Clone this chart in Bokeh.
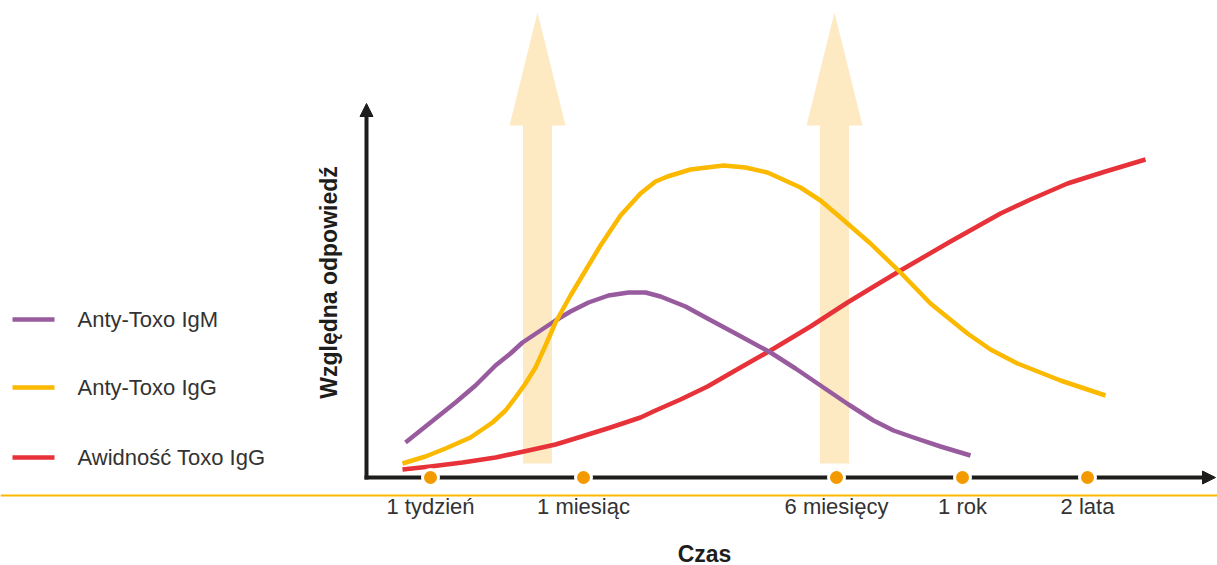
from bokeh.plotting import figure
from bokeh.models import Range1d, Arrow, NormalHead, Span
from bokeh.core.properties import value
from bokeh.embed import file_html
from bokeh.resources import INLINE
import math

# ---- data (axis origin at 0,0; units) ----
igm_x = [39, 54, 69, 89, 109, 129, 144, 156, 174, 189, 204, 222, 242, 262, 279, 294,
         319, 341, 369, 404, 429, 454, 482, 507, 527, 547, 574, 604]
igm_y = [35, 47, 59, 75, 92, 112, 124, 135, 147, 157, 166, 175, 182, 185, 185, 181,
         171, 159, 144, 125, 109, 92, 73, 57, 47, 40, 31, 22]

igg_x = [36, 59, 79, 104, 126, 139, 149, 159, 169, 179, 189, 204, 219, 234, 254, 274, 289,
         301, 324, 357, 379, 401, 434, 454, 474, 504, 534, 564, 601, 624, 651, 694, 739]
igg_y = [14, 21, 29, 40, 55, 67, 80, 94, 110, 132, 155, 182, 207, 232, 262, 284, 296,
         301, 308, 312, 310, 305, 290, 277, 260, 234, 205, 174, 144, 128, 114, 97, 82]

avid_x = [36, 64, 96, 129, 162, 189, 212, 244, 274, 289, 314, 341, 374, 404, 444, 481, 509,
          534, 584, 634, 664, 701, 739, 779]
avid_y = [8, 11, 15, 20, 27, 33, 40, 50, 60, 67, 78, 91, 110, 127, 151, 175, 192,
          207, 236, 264, 278, 294, 306, 318]

tick_pos = [64, 217, 470, 596, 721]
tick_labels = ["1 tydzień", "1 miesiąc", "6 miesięcy", "1 rok", "2 lata"]

series_names = ["Anty-Toxo IgM", "Anty-Toxo IgG", "Awidność Toxo IgG"]
series_colors = ["#985B9E", "#FBB900", "#E63238"]

marker_arrows_x = [171, 468]

FONT = "Liberation Sans"
AXIS_COLOR = "#1d1d1b"

p = figure(width=1217, height=565, x_range=Range1d(-366, 851), y_range=Range1d(-88, 477),
           output_backend="svg", toolbar_location=None, min_border=0,
           x_axis_type=None, y_axis_type=None)
p.grid.visible = False
p.outline_line_color = None
p.background_fill_color = "white"

# yellow rule under the axis
p.add_layout(Span(location=-18, dimension="width", line_color="#FBB900", line_width=2,
                  level="underlay"))

# big pale arrows
xs, ys = [], []
for cx in marker_arrows_x:
    sw, hw = 14.5, 28
    y0, yb, yt = 14, 352, 465
    xs.append([cx - sw, cx + sw, cx + sw, cx + hw, cx, cx - hw, cx - sw])
    ys.append([y0, y0, yb, yb, yt, yb, yb])
p.patches(xs, ys, fill_color="#FDEAC3", line_color=None)

# curves
p.line(avid_x, avid_y, line_color=series_colors[2], line_width=4.5, line_join="round")
p.line(igm_x, igm_y, line_color=series_colors[0], line_width=4.5, line_join="round")
p.line(igg_x, igg_y, line_color=series_colors[1], line_width=4.5, line_join="round")

# axes with arrow heads (under the glyphs, so the dots sit on top)
p.add_layout(Arrow(end=NormalHead(size=13, fill_color=AXIS_COLOR, line_color=AXIS_COLOR),
                   x_start=-2, y_start=0, x_end=849, y_end=0,
                   line_color=AXIS_COLOR, line_width=4, level="underlay"))
p.add_layout(Arrow(end=NormalHead(size=13, fill_color=AXIS_COLOR, line_color=AXIS_COLOR),
                   x_start=0, y_start=-2, x_end=0, y_end=374,
                   line_color=AXIS_COLOR, line_width=4, level="underlay"))

# tick dots
p.scatter(tick_pos, [0] * len(tick_pos), size=16, fill_color="#F39A00",
          line_color="white", line_width=3)

# tick labels
p.text(tick_pos, [-29] * len(tick_pos), text=tick_labels, text_font=value(FONT),
       text_font_size="22px", text_color="#333333", text_align="center",
       text_baseline="middle")

# axis titles
p.text([338], [-76], text=["Czas"], text_font=value(FONT), text_font_size="23px",
       text_font_style="bold", text_color=AXIS_COLOR, text_align="center",
       text_baseline="middle")
p.text([-38], [195], text=["Względna odpowiedź"], angle=math.pi / 2,
       text_font=value(FONT), text_font_size="23px", text_font_style="bold",
       text_color=AXIS_COLOR, text_align="center", text_baseline="middle")

# legend
leg_y = [158, 90, 20]
for name, col, ly in zip(series_names, series_colors, leg_y):
    p.line([-354, -312], [ly, ly], line_color=col, line_width=4.5)
p.text([-289] * 3, leg_y, text=series_names, text_font=value(FONT),
       text_font_size="22px", text_color="#333333", text_align="left",
       text_baseline="middle")

open("out.html", "w").write(file_html(p, INLINE))
